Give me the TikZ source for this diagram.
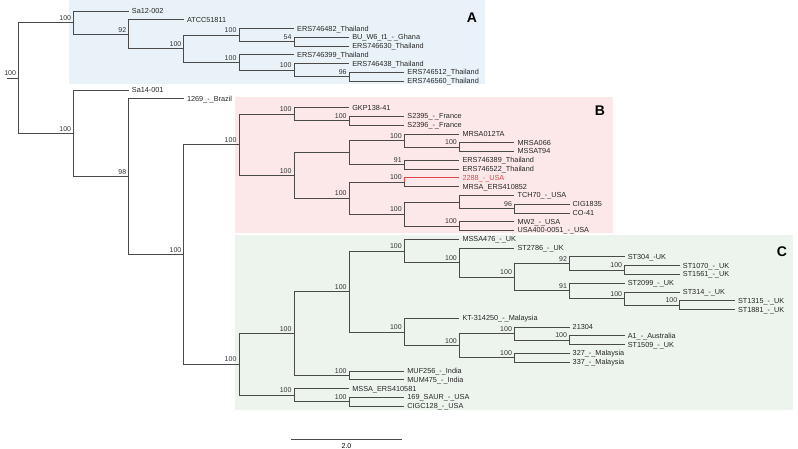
\documentclass[tikz,border=0pt]{standalone}
\usepackage{fontspec}
\setmainfont{Liberation Sans}
\usetikzlibrary{positioning}
\definecolor{cladeA}{HTML}{EAF2F9}
\definecolor{cladeB}{HTML}{FCE8E8}
\definecolor{cladeC}{HTML}{EDF4EE}
\definecolor{branchgray}{HTML}{4A4A4A}
\definecolor{hilite}{HTML}{E04848}

\begin{document}
\begin{tikzpicture}[
    x = 1pt, y = -1pt,
    branch/.style = {
      draw = branchgray, line width = 0.8pt
    },
    tip/.style = {
      anchor = west, inner xsep = 3pt, inner ysep = 0pt,
      text height = 5pt, text depth = 0pt, text = black!85,
      font = \fontsize{7.3}{8}\selectfont
    },
    boot/.style = {
      anchor = south east, inner sep = 0.8pt, xshift = -1.5pt, yshift = 1.3pt,
      text height = 4.9pt, text depth = 0pt, text = black!80,
      font = \fontsize{7}{8}\selectfont
    },
    cladename/.style = {
      inner sep = 0pt, font = \fontsize{14}{14}\bfseries\selectfont
    },
  ]
  \useasboundingbox (0,0) rectangle (798,449);

  % clade backgrounds
  \fill [cladeA] (69,0) rectangle (485,84);
  \fill [cladeB] (235,97) rectangle (613,233);
  \fill [cladeC] (235,235) rectangle (793,410);
  \node [cladename] (labA) at (472,18) {A};
  \node [cladename] (labB) at (600,111) {B};
  \node [cladename] (labC) at (782,252) {C};

  \begin{scope}[xshift = 18.5pt, yshift = -11pt, x = 55.1pt, y = -8.78pt]
    % tips: row / depth / name
    \foreach \r/\d/\name in {
      0/2/Sa12-002, 1/3/ATCC51811, 2/5/ERS746482\_Thailand,
      3/6/BU\_W6\_t1\_-\_Ghana, 4/6/ERS746630\_Thailand,
      5/5/ERS746399\_Thailand, 6/6/ERS746438\_Thailand,
      7/7/ERS746512\_Thailand, 8/7/ERS746560\_Thailand,
      9/2/Sa14-001, 10/3/1269\_-\_Brazil,
      11/6/GKP138-41, 12/7/S2395\_-\_France, 13/7/S2396\_-\_France,
      14/8/MRSA012TA, 15/9/MRSA066, 16/9/MSSAT94,
      17/8/ERS746389\_Thailand, 18/8/ERS746522\_Thailand,
      20/8/MRSA\_ERS410852, 21/9/TCH70\_-\_USA,
      22/10/CIG1835, 23/10/CO-41, 24/9/MW2\_-\_USA,
      25/9/USA400-0051\_-\_USA,
      26/8/MSSA476\_-\_UK, 27/9/ST2786\_-\_UK, 28/11/ST304\_-UK,
      29/12/ST1070\_-\_UK, 30/12/ST1561\_-\_UK, 31/11/ST2099\_-\_UK,
      32/12/ST314\_-\_UK, 33/13/ST1315\_-\_UK, 34/13/ST1881\_-\_UK,
      35/8/KT-314250\_-\_Malaysia, 36/10/21304,
      37/11/A1\_-\_Australia, 38/11/ST1509\_-\_UK,
      39/10/327\_-\_Malaysia, 40/10/337\_-\_Malaysia,
      41/7/MUF256\_-\_India, 42/7/MUM475\_-\_India,
      43/6/MSSA\_ERS410581, 44/7/169\_SAUR\_-\_USA, 45/7/CIGC128\_-\_USA}
    \node [tip] (t\r) at (\d,\r) {\name};
    \node [tip, text = hilite] (t19) at (8,19) {2288\_-\_USA};

    % inner nodes: name / depth / row
    \foreach \n/\d/\r in {
      root/0/7.631, nA/1/1.328, n92/2/2.656, nA3/3/4.3125,
      nA4a/4/2.75, n54/5/3.5, nA4b/4/5.875, nA5/5/6.75, n96a/6/7.5,
      nL1/1/13.934, n98/2/18.868, nL3/3/27.735,
      nB/4/15.234, nB5a/5/11.75, nB6a/6/12.5, nB5b/5/18.719,
      nB6b/6/16.125, nB7a/7/14.75, nB8a/8/15.5, nB7b/7/17.5,
      nB6c/6/21.3125, nB7c/7/19.5, nB7d/7/23.125, nB8b/8/21.75,
      n96b/9/22.5, nB8c/8/24.5,
      nC/4/40.236, nC5a/5/36.723, nC6a/6/31.945, nC7a/7/27.328,
      nC8a/8/28.656, nC9a/9/30.3125, nC10a/10/28.75, nC11a/11/29.5,
      nC10b/10/31.875, nC11b/11/32.75, nC12/12/33.5,
      nC7b/7/36.5625, nC8b/8/38.125, nC9b/9/36.75, nC10c/10/37.5,
      nC9c/9/39.5, nC6b/6/41.5, nC5b/5/43.75, nC6c/6/44.5}
    \coordinate (\n) at (\d,\r);
    \coordinate (stub) at (-0.21,7.631);

    % branches
    \draw [branch] (stub) -- (root);
    \foreach \p/\c in {
      root/nA, root/nL1, nA/t0.west, nA/n92, n92/t1.west, n92/nA3,
      nA3/nA4a, nA3/nA4b, nA4a/t2.west, nA4a/n54,
      n54/t3.west, n54/t4.west, nA4b/t5.west, nA4b/nA5,
      nA5/t6.west, nA5/n96a, n96a/t7.west, n96a/t8.west,
      nL1/t9.west, nL1/n98, n98/t10.west, n98/nL3, nL3/nB, nL3/nC,
      nB/nB5a, nB/nB5b, nB5a/t11.west, nB5a/nB6a,
      nB6a/t12.west, nB6a/t13.west, nB5b/nB6b, nB5b/nB6c,
      nB6b/nB7a, nB6b/nB7b, nB7a/t14.west, nB7a/nB8a,
      nB8a/t15.west, nB8a/t16.west, nB7b/t17.west, nB7b/t18.west,
      nB6c/nB7c, nB6c/nB7d, nB7c/t20.west, nB7d/nB8b, nB7d/nB8c,
      nB8b/t21.west, nB8b/n96b, n96b/t22.west, n96b/t23.west,
      nB8c/t24.west, nB8c/t25.west,
      nC/nC5a, nC/nC5b, nC5a/nC6a, nC5a/nC6b, nC6a/nC7a, nC6a/nC7b,
      nC7a/t26.west, nC7a/nC8a, nC8a/t27.west, nC8a/nC9a,
      nC9a/nC10a, nC9a/nC10b, nC10a/t28.west, nC10a/nC11a,
      nC11a/t29.west, nC11a/t30.west, nC10b/t31.west, nC10b/nC11b,
      nC11b/t32.west, nC11b/nC12, nC12/t33.west, nC12/t34.west,
      nC7b/t35.west, nC7b/nC8b, nC8b/nC9b, nC8b/nC9c,
      nC9b/t36.west, nC9b/nC10c, nC10c/t37.west, nC10c/t38.west,
      nC9c/t39.west, nC9c/t40.west, nC6b/t41.west, nC6b/t42.west,
      nC5b/t43.west, nC5b/nC6c, nC6c/t44.west, nC6c/t45.west}
    \draw [branch] (\p) |- (\c);
    \draw [branch, draw = hilite] (nB7c) |- (t19.west);

    % bootstrap support
    \foreach \n/\v in {
      root/100, nA/100, n92/92, nA3/100, nA4a/100, n54/54, nA4b/100,
      nA5/100, n96a/96, nL1/100, n98/98, nL3/100,
      nB/100, nB5a/100, nB6a/100, nB5b/100, nB7a/100, nB8a/100,
      nB7b/91, nB6c/100, nB7c/100, nB7d/100, n96b/96, nB8c/100,
      nC/100, nC5a/100, nC6a/100, nC7a/100, nC8a/100, nC9a/100,
      nC10a/92, nC11a/100, nC10b/91, nC11b/100, nC12/100,
      nC7b/100, nC8b/100, nC9b/100, nC10c/100, nC9c/100,
      nC6b/100, nC5b/100, nC6c/100}
    \node [boot] (b\n) at (\n) {\v};
  \end{scope}

  % scale bar
  \coordinate (sbl) at (291,439);
  \coordinate (sbr) at (402,439);
  \draw [branch] (sbl) -- (sbr)
    node [midway, anchor = north, inner sep = 1pt, yshift = -3.5pt,
      text height = 5pt, text depth = 0pt, font = \fontsize{7}{8}\selectfont] (sblabel) {2.0};
\end{tikzpicture}
\end{document}
